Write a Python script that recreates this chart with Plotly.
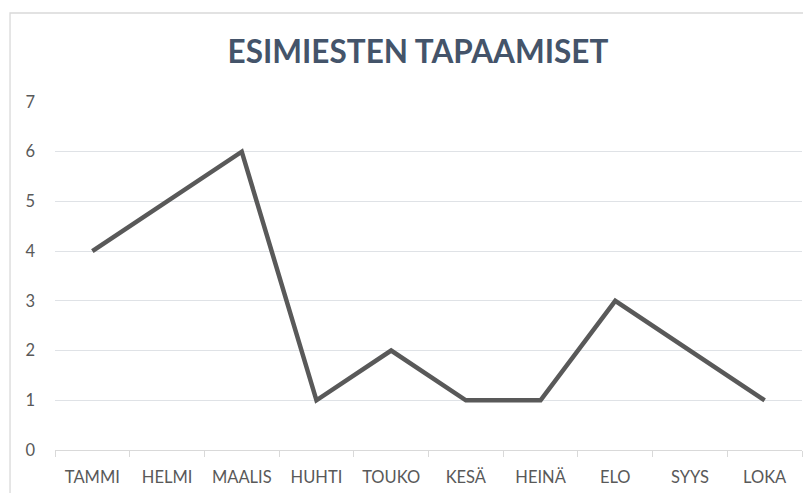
import plotly.graph_objects as go

months = ["TAMMI", "HELMI", "MAALIS", "HUHTI", "TOUKO", "KESÄ", "HEINÄ", "ELO", "SYYS", "LOKA"]
meetings = [4, 5, 6, 1, 2, 1, 1, 3, 2, 1]
y_ticks = [0, 1, 2, 3, 4, 5, 6, 7]

fig = go.Figure()
fig.add_trace(go.Scatter(
    x=months, y=meetings, mode="lines",
    line=dict(color="#595959", width=4.5),
    hoverinfo="x+y",
))

fig.update_layout(
    width=811, height=493,
    margin=dict(l=47, r=17, t=94, b=51, autoexpand=False),
    paper_bgcolor="white", plot_bgcolor="white",
    showlegend=False,
    font=dict(family="Lato, Carlito, sans-serif", color="#595959", size=16),
    title=dict(
        text="<b>ESIMIESTEN TAPAAMISET</b>",
        x=0.5055, xanchor="center", y=0.9108, yanchor="middle",
        font=dict(family="Lato, sans-serif", size=31.5, color="#44546A"),
    ),
    xaxis=dict(
        type="category", range=[-0.5, 9.5], automargin=False,
        showgrid=False, showline=True, linecolor="#D9D9D9", linewidth=1.3,
        ticks="outside", tickson="boundaries", ticklen=6, tickcolor="#D9D9D9",
        ticklabelstandoff=12,
        tickfont=dict(size=16.5, color="#595959"),
        zeroline=False,
    ),
    yaxis=dict(
        range=[0, 7], tickvals=y_ticks, automargin=False,
        showgrid=True, gridcolor="#DFE2E6", gridwidth=1.3,
        showline=False, zeroline=False,
        ticks="", ticklabelstandoff=19,
        tickfont=dict(size=16.5, color="#595959"),
    ),
    shapes=[dict(
        type="rect", xref="paper", yref="paper",
        x0=-0.0602, x1=1.2, y0=-0.5, y1=1.2557,
        line=dict(color="#D9D9D9", width=1.3), fillcolor="rgba(0,0,0,0)",
        layer="below",
    )],
)

fig.write_html("out.html")
